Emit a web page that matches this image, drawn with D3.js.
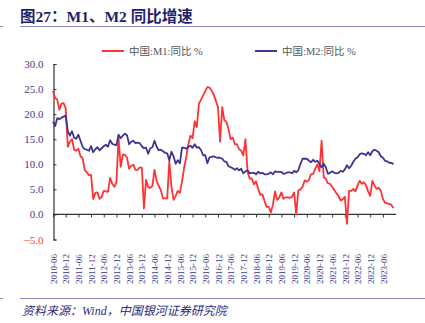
<!DOCTYPE html>
<html>
<head>
<meta charset="utf-8">
<script src="https://cdn.jsdelivr.net/npm/d3@7"></script>
<style>
  body { margin: 0; background: #fff; }
  svg { display: block; }
</style>
</head>
<body>
<svg width="425" height="323"></svg>
<script>
// monthly data, 2010-06 .. 2023-11
let startYear = 2010, startMonth = 6;

let m1 = [
  24.6, 23.2, 22.9, 20.9, 22.1, 22.2, 21.2,
  13.5, 14.5, 15.0, 12.9, 12.7, 13.1, 11.6, 11.2, 8.9, 8.4, 7.8, 7.9,
  3.1, 4.3, 4.4, 3.1, 3.5, 4.7, 4.6, 4.5, 7.3, 6.1, 5.5, 6.5,
  15.3, 9.5, 11.9, 11.9, 11.3, 9.1, 9.7, 9.9, 8.9, 8.9, 9.4, 9.3,
  1.2, 6.9, 5.4, 5.3, 5.7, 8.9, 6.7, 5.7, 4.8, 3.2, 3.2, 3.2,
  10.6, 5.6, 2.9, 3.7, 4.7, 4.3, 6.6, 9.3, 11.4, 14.0, 15.7, 15.2,
  18.6, 17.4, 22.1, 22.9, 23.7, 24.6, 25.4, 25.3, 24.7, 23.9, 22.7, 21.4,
  14.5, 21.4, 18.8, 18.5, 17.0, 15.0, 15.3, 14.0, 14.0, 13.0, 12.7, 11.8,
  15.0, 8.5, 7.1, 7.2, 6.0, 6.6, 5.1, 3.9, 4.0, 2.7, 1.5, 1.5,
  0.4, 2.0, 4.6, 2.9, 3.4, 4.4, 3.1, 3.4, 3.4, 3.3, 3.5, 4.4,
  0.0, 4.8, 5.0, 5.5, 6.8, 6.5, 6.9, 8.0, 8.1, 9.1, 10.0, 8.6,
  14.7, 7.4, 7.1, 6.2, 6.1, 5.5, 4.9, 4.2, 3.7, 2.8, 3.0, 3.5,
  -1.9, 4.7, 4.7, 5.1, 4.6, 5.8, 6.7, 6.1, 6.4, 5.8, 4.6, 3.7,
  6.7, 5.8, 5.1, 5.3, 4.7, 3.1, 2.3, 2.2, 2.1, 1.9, 1.3
];

let m2 = [
  18.5, 17.6, 19.2, 19.0, 19.3, 19.5, 19.7,
  16.6, 15.7, 16.6, 15.3, 15.1, 15.9, 14.7, 13.5, 13.0, 12.9, 12.7, 13.6,
  12.4, 13.0, 13.4, 12.8, 13.2, 13.6, 13.9, 13.5, 14.8, 14.1, 13.9, 13.8,
  15.9, 15.2, 15.7, 16.1, 15.8, 14.0, 14.5, 14.7, 14.2, 14.3, 14.2, 13.6,
  13.2, 13.3, 12.1, 13.2, 13.4, 14.7, 13.5, 12.8, 12.9, 12.6, 12.3, 12.2,
  10.8, 12.5, 11.6, 10.1, 10.8, 10.2, 13.3, 13.3, 13.1, 13.5, 13.7, 13.3,
  14.0, 13.3, 13.4, 12.8, 11.8, 11.8, 10.2, 11.4, 11.5, 11.6, 11.4, 11.3,
  11.3, 11.1, 10.6, 10.5, 9.6, 9.4, 9.2, 8.9, 9.2, 8.8, 9.1, 8.2,
  8.6, 8.8, 8.2, 8.3, 8.3, 8.0, 8.5, 8.2, 8.3, 8.0, 8.0, 8.1,
  8.4, 8.0, 8.6, 8.5, 8.5, 8.5, 8.1, 8.2, 8.4, 8.4, 8.2, 8.7,
  8.4, 8.8, 10.1, 11.1, 11.1, 11.1, 10.7, 10.4, 10.9, 10.5, 10.7, 10.1,
  9.4, 10.1, 9.4, 8.1, 8.3, 8.6, 8.3, 8.2, 8.3, 8.7, 8.5, 9.0,
  9.8, 9.2, 9.7, 10.5, 11.1, 11.4, 12.0, 12.2, 12.1, 11.8, 12.4, 11.8,
  12.6, 12.9, 12.7, 12.4, 11.6, 11.3, 10.7, 10.6, 10.3, 10.3, 10.0
];

let yTicks = [-5, 0, 5, 10, 15, 20, 25, 30];
let seriesNames = ["中国:M1:同比 %", "中国:M2:同比 %"];
let seriesColors = ["#ff3333", "#3d3590"];

// month labels
let months = m1.map((v, i) => {
  let t = startMonth - 1 + i;
  let y = startYear + Math.floor(t / 12);
  let m = (t % 12) + 1;
  return y + "-" + (m < 10 ? "0" + m : m);
});

let svg = d3.select("svg");
let navy = "#2b2b7a";

// header
svg.append("text")
  .attr("x", 20).attr("y", 22)
  .attr("fill", "#1f1f6e")
  .attr("font-family", "'Liberation Serif', 'Noto Sans CJK SC', serif")
  .attr("font-weight", "bold")
  .attr("font-size", 15.5)
  .text("图27：M1、M2 同比增速");

svg.append("line")
  .attr("x1", 20).attr("x2", 425).attr("y1", 26.5).attr("y2", 26.5)
  .attr("stroke", "#8a8abf").attr("stroke-width", 1);
svg.append("line")
  .attr("x1", 0).attr("x2", 3).attr("y1", 26.5).attr("y2", 26.5)
  .attr("stroke", "#8a8abf").attr("stroke-width", 1);

svg.append("line")
  .attr("x1", 20).attr("x2", 425).attr("y1", 298.5).attr("y2", 298.5)
  .attr("stroke", "#8a8abf").attr("stroke-width", 1);
svg.append("line")
  .attr("x1", 0).attr("x2", 3).attr("y1", 298.5).attr("y2", 298.5)
  .attr("stroke", "#8a8abf").attr("stroke-width", 1);

svg.append("text")
  .attr("x", 22).attr("y", 315)
  .attr("fill", navy)
  .attr("font-family", "'Liberation Serif', 'Noto Sans CJK SC', serif")
  .attr("font-style", "italic")
  .attr("font-size", 12)
  .text("资料来源：Wind，中国银河证券研究院");

// scales
let x = d3.scaleLinear()
  .domain([0, months.length - 1])
  .range([53, 393.5]);

let y = d3.scaleLinear()
  .domain([-5, 30])
  .range([239.5, 64]);

// y axis
let yAxis = svg.append("g")
  .attr("transform", "translate(53.5,0)")
  .call(d3.axisLeft(y).tickValues(yTicks).tickSize(-3).tickFormat(d3.format(".1f")));
yAxis.select(".domain").attr("stroke", "#333").attr("stroke-width", 1.2);
yAxis.selectAll(".tick line").attr("stroke", "#333");
yAxis.selectAll("text")
  .attr("x", -10)
  .attr("font-family", "'Liberation Serif', serif")
  .attr("font-size", 11)
  .attr("fill", d => d < 0 ? "#ff3333" : "#3a3a8c")
  .text(d => d < 0 ? "−5.0" : d3.format(".1f")(d));

// x axis at zero
let tickIdx = months.map((d, i) => i).filter(i => i % 6 === 0);
let xAxis = svg.append("g")
  .attr("transform", `translate(0,${y(0)})`)
  .call(d3.axisBottom(x).tickValues(tickIdx).tickSize(3).tickSizeOuter(0).tickFormat(i => months[i]));
xAxis.select(".domain")
  .attr("d", `M53,0H396`)
  .attr("stroke", "#333").attr("stroke-width", 1.2);
xAxis.selectAll(".tick line").attr("stroke", "#333");
// vertical labels under the plot, reading upward
xAxis.selectAll(".tick text")
  .attr("font-family", "'Liberation Serif', serif")
  .attr("font-size", 9)
  .attr("fill", "#3a3a8c")
  .attr("x", 0).attr("y", 0)
  .attr("dy", "0.35em")
  .attr("text-anchor", "start")
  .attr("transform", `translate(0,${246 - y(0) + 38}) rotate(-90)`);

// lines
let line = d3.line()
  .x((d, i) => x(i))
  .y(d => y(d));

[m1, m2].forEach((s, k) => {
  svg.append("path")
    .datum(s)
    .attr("fill", "none")
    .attr("stroke", seriesColors[k])
    .attr("stroke-width", 1.8)
    .attr("stroke-linejoin", "round")
    .attr("d", line);
});

// legend
let legendX = [102, 255];
seriesNames.forEach((name, k) => {
  svg.append("line")
    .attr("x1", legendX[k]).attr("x2", legendX[k] + 22)
    .attr("y1", 51).attr("y2", 51)
    .attr("stroke", seriesColors[k]).attr("stroke-width", 2);
  svg.append("text")
    .attr("x", legendX[k] + 27).attr("y", 55)
    .attr("fill", "#555")
    .attr("font-family", "'Liberation Serif', 'Noto Sans CJK SC', serif")
    .attr("font-size", 10.5)
    .text(name);
});
</script>
</body>
</html>
